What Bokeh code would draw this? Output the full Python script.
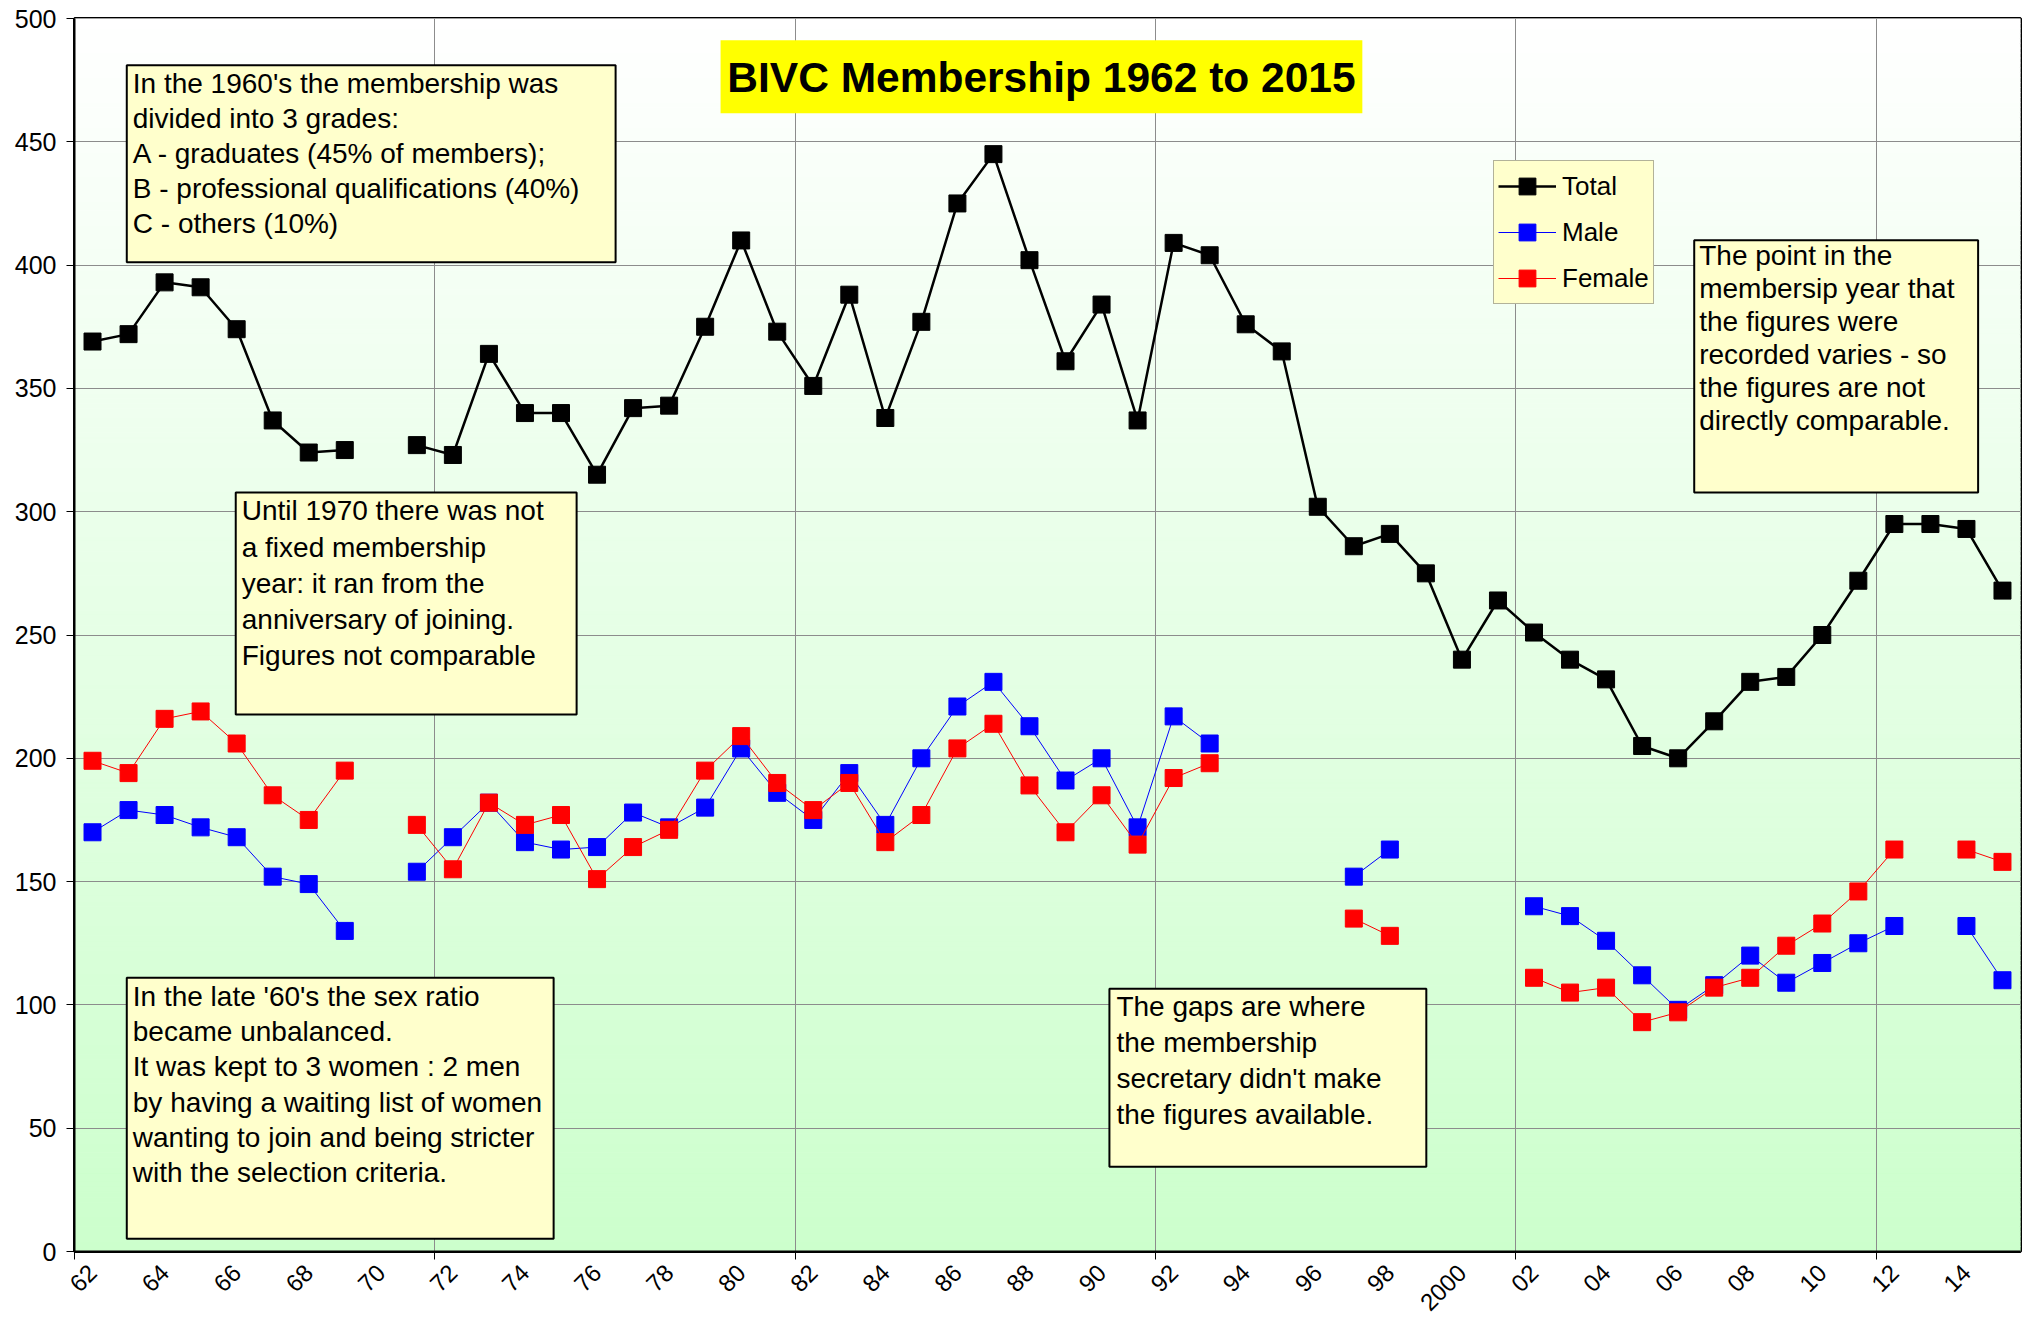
import math
import numpy as np
from bokeh.plotting import figure
from bokeh.models import Range1d, FixedTicker, Legend, LegendItem, BoxAnnotation, Label
from bokeh.embed import file_html
from bokeh.resources import INLINE

nan = float("nan")

# ---------------- data ----------------
years = list(range(1962, 2016))
total = [369, 372, 393, 391, 374, 337, 324, 325, nan, 327,
         323, 364, 340, 340, 315, 342, 343, 375, 410, 373,
         351, 388, 338, 377, 425, 445, 402, 361, 384, 337,
         409, 404, 376, 365, 302, 286, 291, 275, 240, 264,
         251, 240, 232, 205, 200, 215, 231, 233, 250, 272,
         295, 295, 293, 268]
male = [170, 179, 177, 172, 168, 152, 149, 130, nan, 154,
        168, 182, 166, 163, 164, 178, 172, 180, 204, 186,
        175, 194, 173, 200, 221, 231, 213, 191, 200, 172,
        217, 206, nan, nan, nan, 152, 163, nan, nan, nan,
        140, 136, 126, 112, 98, 108, 120, 109, 117, 125,
        132, nan, 132, 110]
female = [199, 194, 216, 219, 206, 185, 175, 195, nan, 173,
          155, 182, 173, 177, 151, 164, 171, 195, 209, 190,
          179, 190, 166, 177, 204, 214, 189, 170, 185, 165,
          192, 198, nan, nan, nan, 135, 128, nan, nan, nan,
          111, 105, 107, 93, 97, 107, 111, 124, 133, 146,
          163, nan, 163, 158]
label_years = list(range(1962, 2016, 2))
tick_labels = ["62", "64", "66", "68", "70", "72", "74", "76", "78", "80",
               "82", "84", "86", "88", "90", "92", "94", "96", "98", "2000",
               "02", "04", "06", "08", "10", "12", "14"]
y_ticks = list(range(0, 501, 50))
grid_years = [1971.5, 1981.5, 1991.5, 2001.5, 2011.5]
edge_ticks = [1961.5, 1971.5, 1981.5, 1991.5, 2001.5, 2011.5]

FONT = "Liberation Sans"

p = figure(width=2022, height=1322,
           x_range=Range1d(1961.5, 2015.5), y_range=Range1d(0, 500),
           output_backend="svg", toolbar_location=None,
           min_border_left=74, min_border_right=2, min_border_top=18, min_border_bottom=71,
           background_fill_color="white", border_fill_color="white")

# gradient background (white at top -> light green at bottom)
edges = np.linspace(0, 500, 251)
cols = []
for lo in edges[:-1]:
    t = 1 - (lo + 1) / 500.0
    c = int(round(255 - 51 * t))
    cols.append("#%02x%02x%02x" % (c, 255, c))
p.quad(left=1961.5, right=2015.5, bottom=edges[:-1], top=edges[1:],
       fill_color=cols, line_color=cols, line_width=1, level="image")

# grids
p.xgrid.ticker = FixedTicker(ticks=grid_years)
p.ygrid.ticker = FixedTicker(ticks=y_ticks)
for g in (p.xgrid, p.ygrid):
    g.grid_line_color = "#8c8c8c"
    g.grid_line_width = 1

# axes
p.yaxis.ticker = FixedTicker(ticks=y_ticks)
p.yaxis.major_tick_out = 8
p.yaxis.major_tick_in = 0
p.yaxis.minor_tick_out = 0
p.yaxis.major_label_standoff = 10
p.yaxis.major_label_text_font = FONT
p.yaxis.major_label_text_font_size = "25px"
p.yaxis.major_label_text_color = "black"
p.yaxis.axis_line_color = "black"
p.yaxis.axis_line_width = 2

p.xaxis.ticker = FixedTicker(ticks=label_years, minor_ticks=edge_ticks)
p.xaxis.major_label_overrides = {yr: lab for yr, lab in zip(label_years, tick_labels)}
p.xaxis.major_tick_out = 0
p.xaxis.major_tick_in = 0
p.xaxis.minor_tick_out = 8
p.xaxis.minor_tick_in = 0
p.xaxis.minor_tick_line_color = "black"
p.xaxis.major_label_orientation = math.pi / 4
p.xaxis.major_label_standoff = 9
p.xaxis.major_label_text_font = FONT
p.xaxis.major_label_text_font_size = "24px"
p.xaxis.major_label_text_color = "black"
p.xaxis.axis_line_color = "black"
p.xaxis.axis_line_width = 2

p.outline_line_color = "black"
p.outline_line_width = 3

# series
lt = p.line(years, total, line_color="black", line_width=2.5)
st = p.scatter(years, total, marker="square", size=17, fill_color="black", line_color="black")
lm = p.line(years, male, line_color="#0000ff", line_width=1)
sm = p.scatter(years, male, marker="square", size=17, fill_color="#0000ff", line_color="#0000ff")
lf = p.line(years, female, line_color="#ff0000", line_width=1)
sf = p.scatter(years, female, marker="square", size=17, fill_color="#ff0000", line_color="#ff0000")


# annotation placement helpers (pixel positions of the reference -> data coordinates)
def dx(px):
    return 1961.5 + (px - 73.7) / 36.05


def dy(py):
    return (1250.7 - py) / 2.4648


NOTE_FILL = "#ffffcc"
notes = [
    ((126, 65, 615, 262), (132, 75), 1.13,
     "In the 1960's the membership was\ndivided into 3 grades:\nA - graduates  (45% of members);\n"
     "B - professional qualifications (40%)\nC - others  (10%)"),
    ((235, 492, 576, 714), (241, 502), 1.165,
     "Until 1970 there was not\na fixed membership\nyear: it ran from the\nanniversary of joining.\n"
     "Figures not comparable"),
    ((126, 977, 553, 1238), (132, 987), 1.14,
     "In the late '60's the sex ratio\nbecame unbalanced.\nIt was kept to 3 women : 2 men\n"
     "by having a waiting list of women\nwanting to join and being stricter\nwith the selection criteria."),
    ((1109, 988, 1426, 1166), (1116, 997), 1.165,
     "The gaps are where\nthe membership\nsecretary didn't make\nthe figures available."),
    ((1694, 240, 1978, 492), (1699, 247), 1.06,
     "The point in the\nmembersip year that\nthe figures were\nrecorded varies - so\n"
     "the figures are not\ndirectly comparable."),
]
for (l, t, r, b), (tx, ty), lh, txt in notes:
    p.add_layout(BoxAnnotation(left=dx(l), right=dx(r), top=dy(t), bottom=dy(b),
                               fill_color=NOTE_FILL, fill_alpha=1.0,
                               line_color="black", line_width=2, line_alpha=1.0))
    p.add_layout(Label(x=dx(tx), y=dy(ty - 7), text=txt, text_baseline="top", text_align="left",
                       text_font=FONT, text_font_size="28px", text_color="black",
                       text_line_height=lh))

# title
p.add_layout(BoxAnnotation(left=dx(720), right=dx(1362), top=dy(40), bottom=dy(113),
                           fill_color="#ffff00", fill_alpha=1.0, line_color=None))
p.add_layout(Label(x=dx(1041), y=dy(77), text="BIVC Membership 1962 to 2015",
                   text_align="center", text_baseline="middle", text_font=FONT,
                   text_font_style="bold", text_font_size="42.5px", text_color="black"))

legend = Legend(items=[LegendItem(label="Total", renderers=[lt, st]),
                       LegendItem(label="Male", renderers=[lm, sm]),
                       LegendItem(label="Female", renderers=[lf, sf])],
                location=(1419, 947), orientation="vertical",
                background_fill_color=NOTE_FILL, background_fill_alpha=1.0,
                border_line_color="#666666", border_line_width=1.5,
                label_text_font=FONT, label_text_font_size="26px", label_text_color="black",
                glyph_width=58, glyph_height=42, spacing=4, padding=4, margin=0,
                label_standoff=6)
p.add_layout(legend)

open("out.html", "w").write(file_html(p, INLINE))
